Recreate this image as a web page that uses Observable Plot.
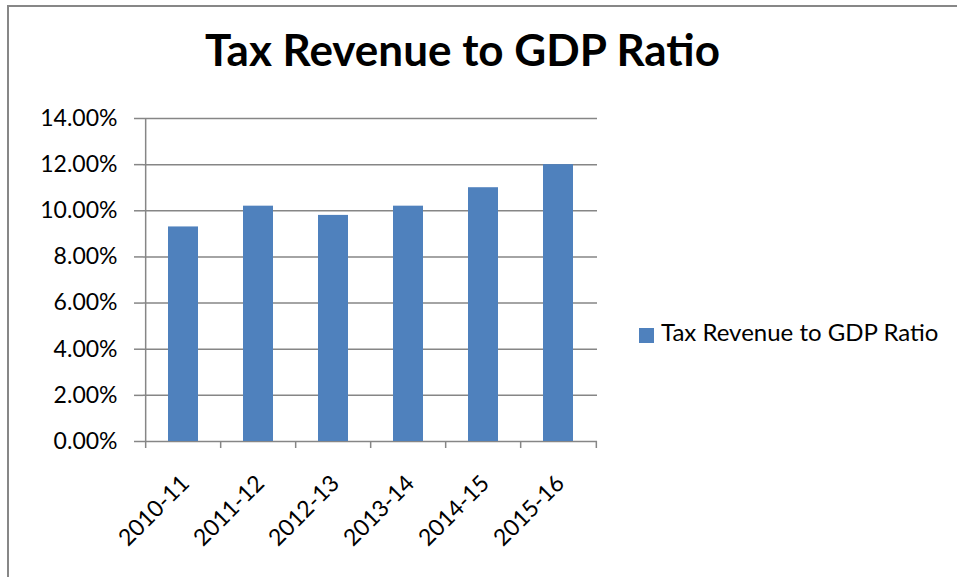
<!DOCTYPE html>
<html>
<head>
<meta charset="utf-8">
<script src="https://cdn.jsdelivr.net/npm/d3@7"></script>
<script src="https://cdn.jsdelivr.net/npm/@observablehq/plot@0.6"></script>
<style>
  html, body { margin: 0; padding: 0; background: #fff; width: 957px; height: 577px; overflow: hidden; }
  #frame { position: absolute; left: 7px; top: 5px; width: 960px; height: 600px; border-left: 2.5px solid #878787; border-top: 2px solid #878787; box-sizing: border-box; }
  #title { position: absolute; left: 0; width: 925px; top: 23px; text-align: center; font-family: Lato, "Open Sans", sans-serif; font-weight: bold; font-size: 44px; line-height: 1.2; color: #000; white-space: nowrap; }
  #chart { position: absolute; left: 0; top: 0; }
  #legend .sw { position: absolute; left: 639px; top: 328px; width: 15px; height: 15px; background: #4F81BD; }
  #legtext { position: absolute; left: 661px; top: 318px; font-family: Lato, "Open Sans", sans-serif; font-size: 24px; line-height: 1.2; color: #000; white-space: nowrap; }
</style>
</head>
<body>
<div id="frame"></div>
<div id="title"></div>
<div id="chart"></div>
<div id="legend"><div class="sw"></div><span id="legtext"></span></div>
<script>
const chartTitle = "Tax Revenue to GDP Ratio";
const seriesName = "Tax Revenue to GDP Ratio";
const categories = ["2010-11", "2011-12", "2012-13", "2013-14", "2014-15", "2015-16"];
const values = [0.093, 0.102, 0.098, 0.102, 0.110, 0.120];
const yTicks = [0, 0.02, 0.04, 0.06, 0.08, 0.10, 0.12, 0.14];

const data = categories.map((c, i) => ({cat: c, value: values[i]}));

document.getElementById("title").textContent = chartTitle;
document.getElementById("legtext").textContent = seriesName;

const W = 957, H = 577, mL = 143, mR = 360, mT = 118, mB = 136;
const step = (W - mL - mR) / categories.length;
const gray = "#868686";

const chart = Plot.plot({
  width: W, height: H,
  marginLeft: mL, marginRight: mR, marginTop: mT, marginBottom: mB,
  x: {domain: categories, paddingInner: 0.6, paddingOuter: 0.3, label: null},
  y: {domain: [0, 0.14], label: null},
  style: {fontFamily: "Lato, 'Open Sans', sans-serif", fontSize: "23px", color: "#000", background: "transparent", overflow: "visible"},
  marks: [
    Plot.gridY(yTicks, {stroke: gray, strokeOpacity: 1, strokeWidth: 1.5}),
    Plot.barY(data, {x: "cat", y: "value", fill: "#4F81BD"}),
    Plot.axisY(yTicks, {tickFormat: d3.format(".2%"), tickSize: 9, tickPadding: 17, stroke: gray, strokeWidth: 1.5, strokeOpacity: 1, label: null}),
    // left axis line
    Plot.ruleX([categories[0]], {y1: 0, y2: 0.14, dx: -step / 2, stroke: gray, strokeWidth: 1.5}),
    // category boundary ticks below axis
    Plot.ruleX(categories, {y1: 0, y2: 0, insetBottom: -7, dx: -step / 2, stroke: gray, strokeWidth: 1.5}),
    Plot.ruleX([categories[categories.length - 1]], {y1: 0, y2: 0, insetBottom: -7, dx: step / 2, stroke: gray, strokeWidth: 1.5}),
    Plot.axisX({tickSize: 0, tickRotate: -45, tickPadding: 38, label: null, fontSize: 23, dx: 2})
  ]
});
document.getElementById("chart").appendChild(chart);
</script>
</body>
</html>
